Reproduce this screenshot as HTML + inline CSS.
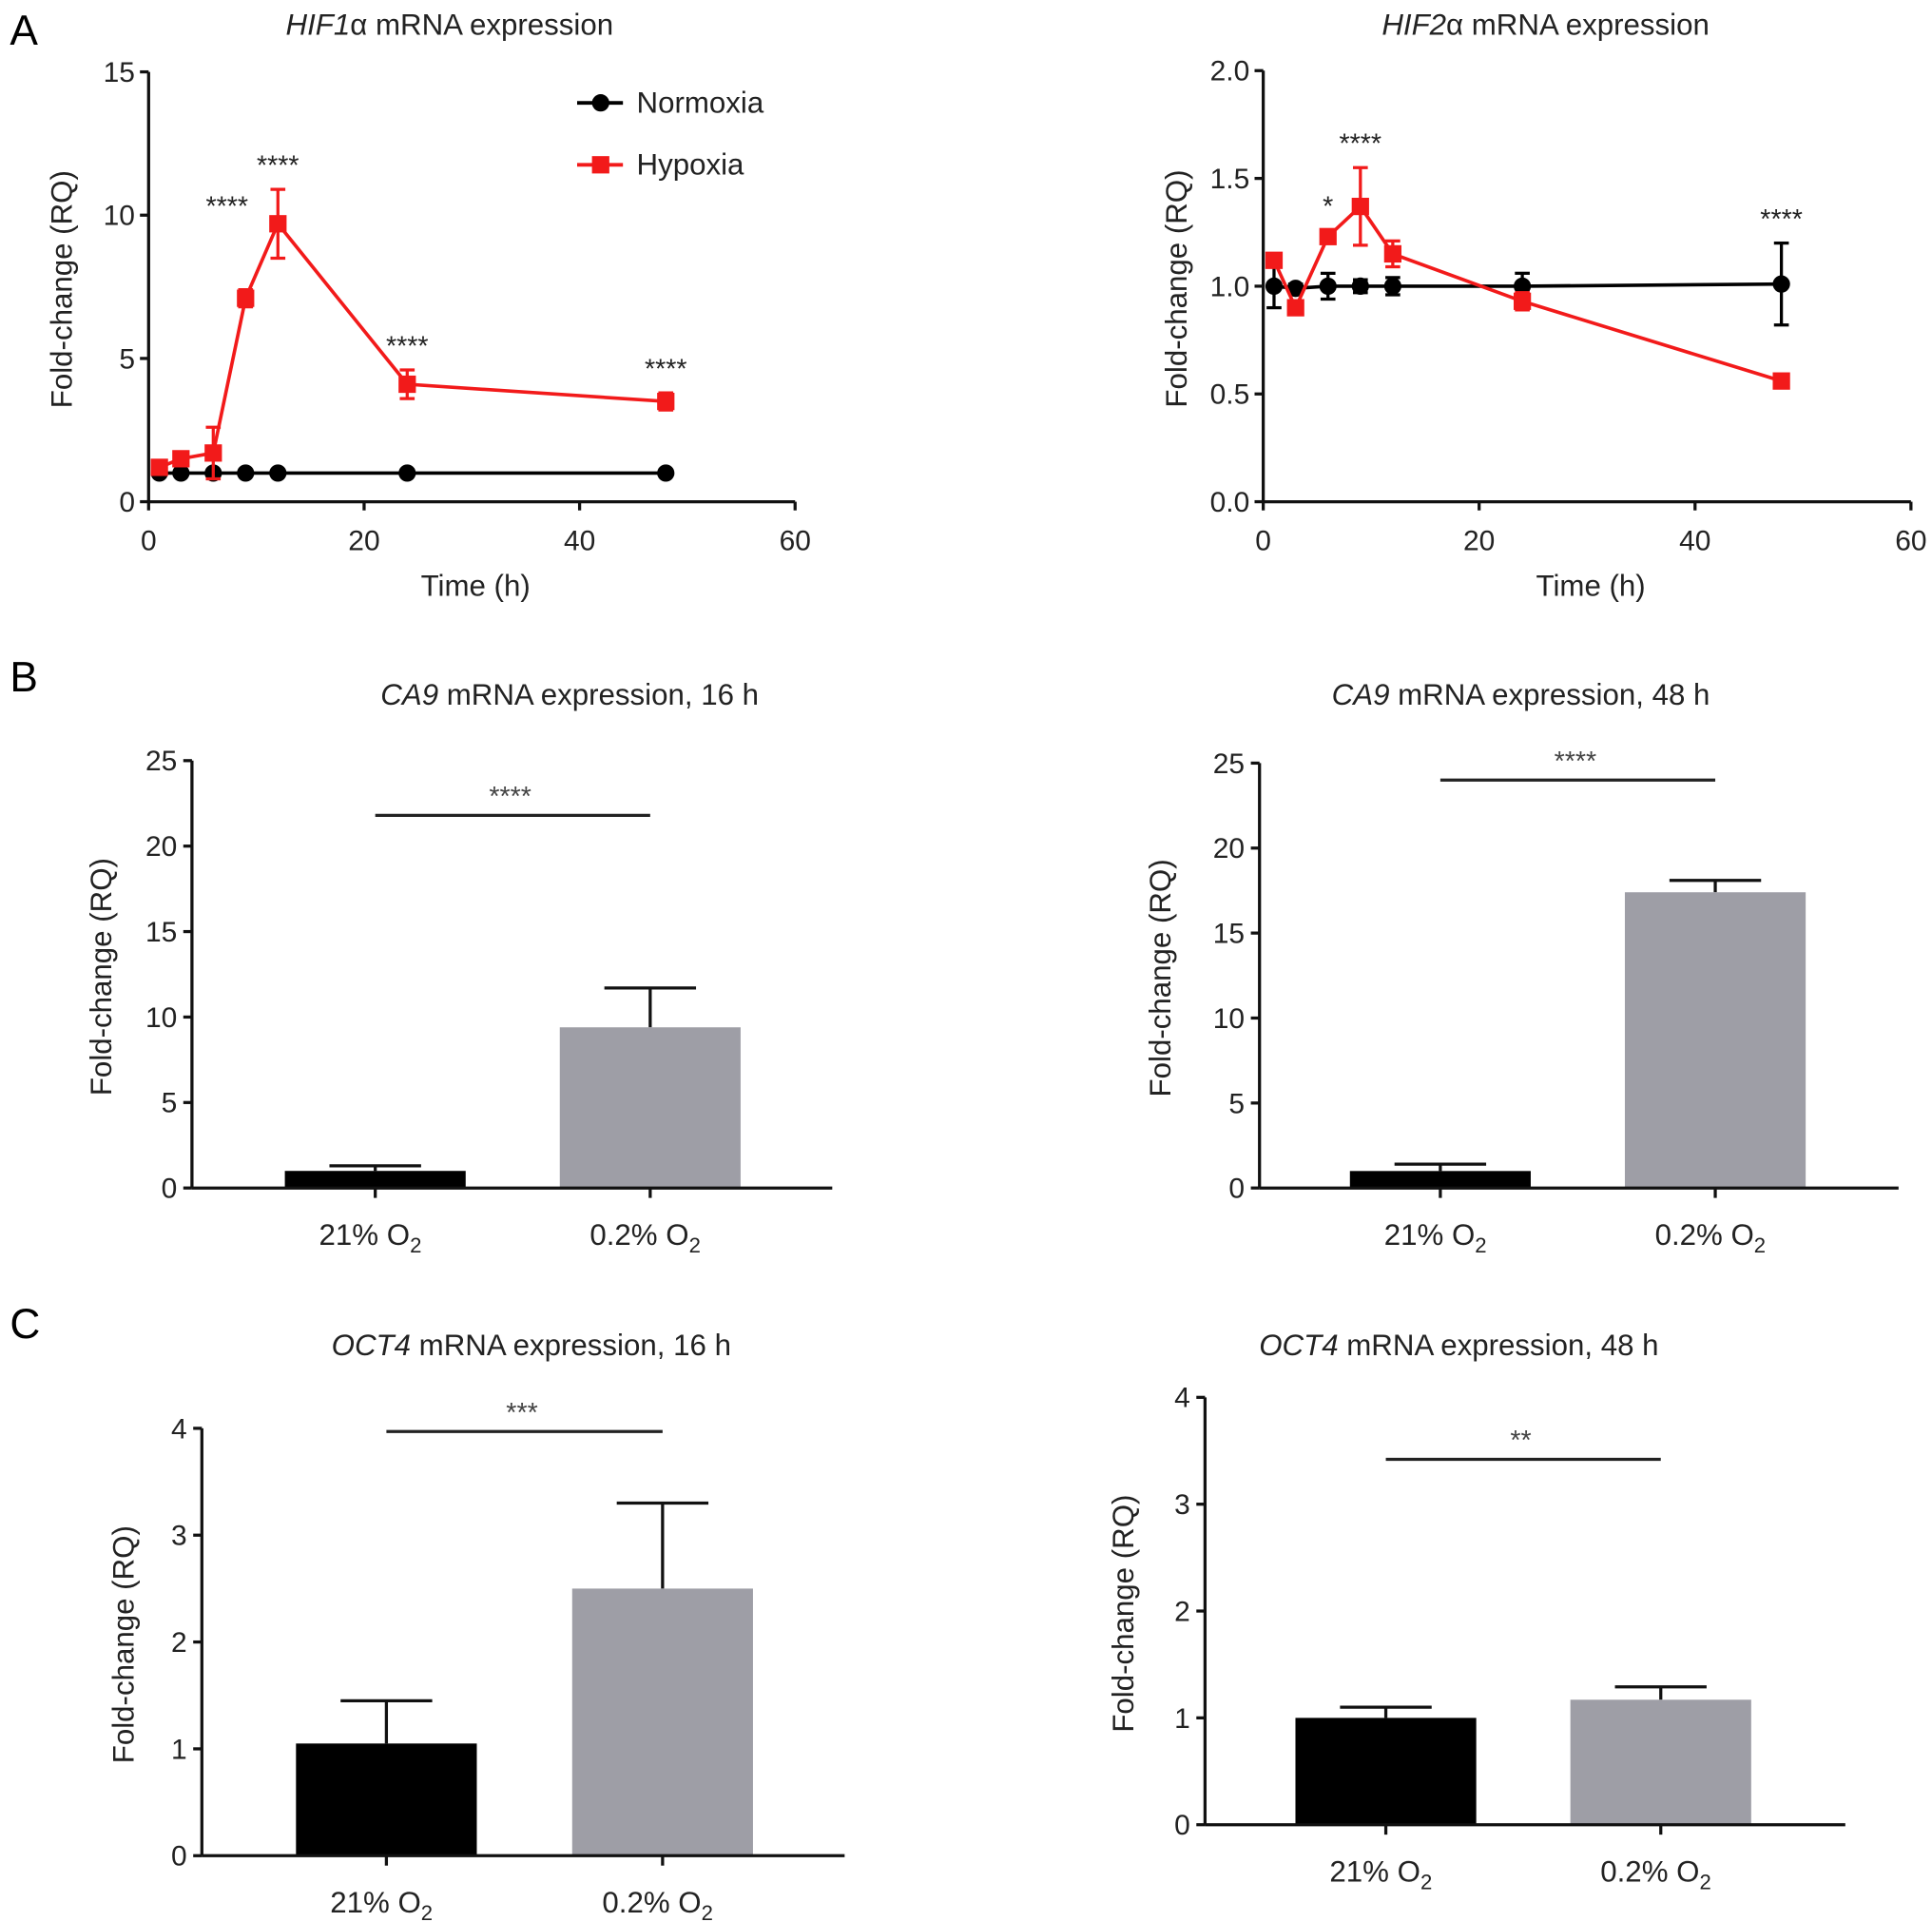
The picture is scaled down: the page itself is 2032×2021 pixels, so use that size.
<!DOCTYPE html>
<html><head><meta charset="utf-8"><style>
html,body{margin:0;padding:0;background:#fff;}
svg{display:block;font-family:"Liberation Sans",Arial,sans-serif;}
</style></head><body>
<svg id="fig" width="2032" height="2021" viewBox="0 0 1560 1551.5" xmlns="http://www.w3.org/2000/svg">
<text x="8" y="36" font-size="34">A</text>
<text x="8" y="558" font-size="34">B</text>
<text x="8" y="1080" font-size="34">C</text>
</svg>
<script>
// ---- data ----
const times = [1, 3, 6, 9, 12, 24, 48];
const hif1Norm = [1, 1, 1, 1, 1, 1, 1];
const hif1NormErr = [0.05, 0.05, 0.05, 0.05, 0.05, 0.05, 0.05];
const hif1Hyp = [1.2, 1.5, 1.7, 7.1, 9.7, 4.1, 3.5];
const hif1HypErr = [0.2, 0.2, 0.9, 0.3, 1.2, 0.5, 0.3];
const hif1Stars = ["", "", "", "****", "****", "****", "****"];
const hif2Norm = [1.0, 0.99, 1.0, 1.0, 1.0, 1.0, 1.01];
const hif2NormErr = [0.1, 0.02, 0.06, 0.03, 0.04, 0.06, 0.19];
const hif2Hyp = [1.12, 0.9, 1.23, 1.37, 1.15, 0.93, 0.56];
const hif2HypErr = [0.03, 0.03, 0.03, 0.18, 0.06, 0.04, 0.02];
const hif2Stars = ["", "", "*", "****", "", "", "****"];
const lineXTicks = [0, 20, 40, 60];
const hif1YTicks = [0, 5, 10, 15];
const hif2YTicks = ["0.0", "0.5", "1.0", "1.5", "2.0"];
const barCategories = ["21% O", "0.2% O"];
const ca9_16 = [1.0, 9.4];
const ca9_16Err = [0.3, 2.3];
const ca9_48 = [1.0, 17.4];
const ca9_48Err = [0.4, 0.7];
const oct4_16 = [1.05, 2.5];
const oct4_16Err = [0.4, 0.8];
const oct4_48 = [1.0, 1.17];
const oct4_48Err = [0.1, 0.12];
const ca9YTicks = [0, 5, 10, 15, 20, 25];
const oct4YTicks = [0, 1, 2, 3, 4];

const svg = document.getElementById('fig');
const NS = 'http://www.w3.org/2000/svg';
function mk(tag, attrs, parent) {
  const e = document.createElementNS(NS, tag);
  for (const k in attrs) e.setAttribute(k, attrs[k]);
  (parent || svg).appendChild(e);
  return e;
}
function txt(x, y, s, size, anchor, parent) {
  const t = mk('text', {x: x, y: y, 'font-size': size, 'text-anchor': anchor || 'middle', fill: '#222'}, parent);
  t.textContent = s;
  return t;
}

function linePanel(cfg) {
  const g = mk('g', {});
  
  
  const X = v => cfg.x0 + (v - 0) / 60 * (cfg.x1 - cfg.x0);
  const Y = v => cfg.y0 - v / cfg.ymax * (cfg.y0 - cfg.y1);
  mk('line', {x1: cfg.x0, y1: cfg.y0, x2: cfg.x0, y2: cfg.y1, stroke: '#111', 'stroke-width': 2.5}, g);
  mk('line', {x1: cfg.x0, y1: cfg.y0, x2: cfg.x1, y2: cfg.y0, stroke: '#111', 'stroke-width': 2.5}, g);
  cfg.yticks.forEach(t => {
    const y = Y(parseFloat(t));
    mk('line', {x1: cfg.x0 - 7, y1: y, x2: cfg.x0, y2: y, stroke: '#111', 'stroke-width': 2.5}, g);
    txt(cfg.x0 - 11, y + 8, String(t), 23, 'end', g);
  });
  lineXTicks.forEach(t => {
    const x = X(t);
    mk('line', {x1: x, y1: cfg.y0, x2: x, y2: cfg.y0 + 7, stroke: '#111', 'stroke-width': 2.5}, g);
    txt(x, cfg.y0 + 39, String(t), 23, 'middle', g);
  });
  const xt = txt((cfg.x0 + cfg.x1) / 2 + 3, cfg.y0 + 76, 'Time (h)', 24, 'middle', g);
  
  
  const yt = txt(0, 0, 'Fold-change (RQ)', 24, 'middle', g);
  yt.setAttribute('transform', 'translate(' + (cfg.x0 - 62) + ',' + ((cfg.y0 + cfg.y1) / 2 + 2) + ') rotate(-90)');
  
  
  const tt = mk('text', {x: cfg.tx, y: 28, 'font-size': 24, 'text-anchor': 'middle', fill: '#222'}, g);
  
  
  const ts = mk('tspan', {'font-style': 'italic'}, tt); ts.textContent = cfg.gene;
  const ts2 = mk('tspan', {}, tt); ts2.textContent = 'α mRNA expression';
  [[cfg.norm, cfg.normErr, '#000', 'circle', 'normoxia'], [cfg.hyp, cfg.hypErr, '#f21a1a', 'square', 'hypoxia']].forEach(s => {
    const pts = times.map((t, i) => X(t) + ',' + Y(s[0][i])).join(' ');
    const pl = mk('polyline', {points: pts, fill: 'none', stroke: s[2], 'stroke-width': 2.8}, g);
    
    
    times.forEach((t, i) => {
      const x = X(t), y = Y(s[0][i]), e = s[1][i];
      mk('line', {x1: x, y1: Y(s[0][i] - e), x2: x, y2: Y(s[0][i] + e), stroke: s[2], 'stroke-width': 2.5}, g);
      mk('line', {x1: x - 6, y1: Y(s[0][i] + e), x2: x + 6, y2: Y(s[0][i] + e), stroke: s[2], 'stroke-width': 2.5}, g);
      mk('line', {x1: x - 6, y1: Y(s[0][i] - e), x2: x + 6, y2: Y(s[0][i] - e), stroke: s[2], 'stroke-width': 2.5}, g);
      let m;
      if (s[3] === 'circle') m = mk('circle', {cx: x, cy: y, r: 7, fill: s[2]}, g);
      else m = mk('rect', {x: x - 7, y: y - 7, width: 14, height: 14, fill: s[2]}, g);
      
      
    });
  });
  cfg.stars.forEach((st, i) => {
    if (!st) return;
    const top = Math.max(cfg.hyp[i] + cfg.hypErr[i], cfg.norm[i] + cfg.normErr[i]);
    const shifted = (i === cfg.shiftIdx);
    const s = txt(X(times[i]) - (shifted ? 15 : 0), Y(top) - (shifted ? 60 : 12), st, 22, 'middle', g);
    
    
  });
  if (cfg.legend) {
    [['Normoxia', '#000', 'circle', 83], ['Hypoxia', '#f21a1a', 'square', 133]].forEach(l => {
      const lg = mk('g', {}, g);
      
      
      mk('line', {x1: 466, y1: l[3], x2: 503, y2: l[3], stroke: l[1], 'stroke-width': 3}, lg);
      if (l[2] === 'circle') mk('circle', {cx: 485, cy: l[3], r: 7, fill: l[1]}, lg);
      else mk('rect', {x: 478, y: l[3] - 7, width: 14, height: 14, fill: l[1]}, lg);
      txt(514, l[3] + 8, l[0], 24, 'start', lg);
    });
  }
}

function barPanel(cfg) {
  const g = mk('g', {});
  
  
  const Y = v => cfg.y0 - v / cfg.ymax * (cfg.y0 - cfg.y1);
  mk('line', {x1: cfg.x0, y1: cfg.y0, x2: cfg.x0, y2: cfg.y1, stroke: '#111', 'stroke-width': 2.5}, g);
  cfg.yticks.forEach(t => {
    const y = Y(t);
    mk('line', {x1: cfg.x0 - 7, y1: y, x2: cfg.x0, y2: y, stroke: '#111', 'stroke-width': 2.5}, g);
    txt(cfg.x0 - 12, y + 8, String(t), 23, 'end', g);
  });
  const colors = ['#000', '#9e9ea6'];
  const cx = [cfg.c0, cfg.c0 + cfg.gap];
  cfg.vals.forEach((v, i) => {
    const x = cx[i], top = Y(v), e = Y(v + cfg.err[i]);
    mk('line', {x1: x, y1: top, x2: x, y2: e, stroke: '#111', 'stroke-width': 2.5}, g);
    mk('line', {x1: x - 37, y1: e, x2: x + 37, y2: e, stroke: '#111', 'stroke-width': 2.5}, g);
    const r = mk('rect', {x: x - 73, y: top, width: 146, height: cfg.y0 - top, fill: colors[i]}, g);
    
    
    mk('line', {x1: x, y1: cfg.y0, x2: x, y2: cfg.y0 + 8, stroke: '#111', 'stroke-width': 2.5}, g);
    const t = txt(x - 4, cfg.y0 + 46, barCategories[i], 24, 'middle', g);
    const sub = mk('tspan', {'font-size': 17, dy: 6}, t); sub.textContent = '2';
  });
  mk('line', {x1: cfg.x0, y1: cfg.y0, x2: cfg.x1, y2: cfg.y0, stroke: '#111', 'stroke-width': 2.5}, g);
  const sy = Y(cfg.sig);
  const sl = mk('line', {x1: cx[0], y1: sy, x2: cx[1], y2: sy, stroke: '#222', 'stroke-width': 2.5}, g);
  
  
  const st = txt((cx[0] + cx[1]) / 2 - 2, sy - 8, cfg.stars, 22, 'middle', g);
  st.setAttribute('fill', '#444');
  const tt = mk('text', {x: cfg.tx, y: cfg.ty, 'font-size': 24, 'text-anchor': 'middle', fill: '#222'}, g);
  
  
  const ts = mk('tspan', {'font-style': 'italic'}, tt); ts.textContent = cfg.gene;
  const ts2 = mk('tspan', {}, tt); ts2.textContent = ' mRNA expression, ' + cfg.hrs;
  const yt = txt(0, 0, 'Fold-change (RQ)', 24, 'middle', g);
  yt.setAttribute('transform', 'translate(' + cfg.ylx + ',' + ((cfg.y0 + cfg.y1) / 2 + 2) + ') rotate(-90)');
  
  
}

linePanel({name: 'hif1a-chart', x0: 120, x1: 642, y0: 405, y1: 58, ymax: 15, yticks: hif1YTicks, tx: 363, gene: 'HIF1',
  norm: hif1Norm, normErr: hif1NormErr, hyp: hif1Hyp, hypErr: hif1HypErr, stars: hif1Stars, legend: true, shiftIdx: 3});
linePanel({name: 'hif2a-chart', x0: 1020, x1: 1543, y0: 405, y1: 57, ymax: 2, yticks: hif2YTicks, tx: 1248, gene: 'HIF2',
  norm: hif2Norm, normErr: hif2NormErr, hyp: hif2Hyp, hypErr: hif2HypErr, stars: hif2Stars, legend: false, shiftIdx: -1});
barPanel({name: 'ca9-16h-chart', x0: 155, x1: 672, y0: 959, y1: 614, ymax: 25, yticks: ca9YTicks, vals: ca9_16, err: ca9_16Err,
  c0: 303, gap: 222, sig: 21.8, stars: '****', tx: 460, ty: 569, gene: 'CA9', hrs: '16 h', ylx: 90});
barPanel({name: 'ca9-48h-chart', x0: 1017, x1: 1533, y0: 959, y1: 616, ymax: 25, yticks: ca9YTicks, vals: ca9_48, err: ca9_48Err,
  c0: 1163, gap: 222, sig: 24.0, stars: '****', tx: 1228, ty: 569, gene: 'CA9', hrs: '48 h', ylx: 945});
barPanel({name: 'oct4-16h-chart', x0: 163, x1: 682, y0: 1498, y1: 1153, ymax: 4, yticks: oct4YTicks, vals: oct4_16, err: oct4_16Err,
  c0: 312, gap: 223, sig: 3.97, stars: '***', tx: 429, ty: 1094, gene: 'OCT4', hrs: '16 h', ylx: 108});
barPanel({name: 'oct4-48h-chart', x0: 973, x1: 1490, y0: 1473, y1: 1128, ymax: 4, yticks: oct4YTicks, vals: oct4_48, err: oct4_48Err,
  c0: 1119, gap: 222, sig: 3.42, stars: '**', tx: 1178, ty: 1094, gene: 'OCT4', hrs: '48 h', ylx: 915});
</script>
</body></html>
